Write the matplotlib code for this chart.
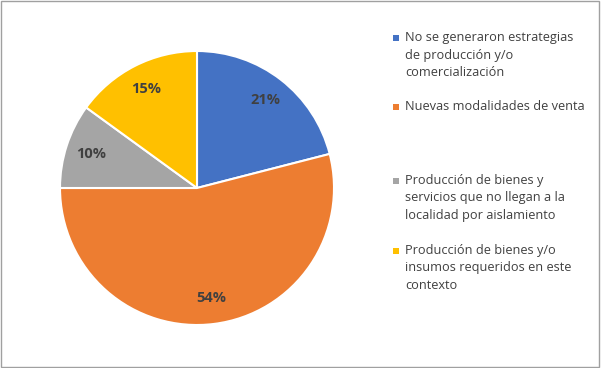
import matplotlib
matplotlib.use("Agg")
import matplotlib.pyplot as plt
from matplotlib.patches import Rectangle

categories = [
    "No se generaron estrategias\nde producción y/o\ncomercialización",
    "Nuevas modalidades de venta",
    "Producción de bienes y\nservicios que no llegan a la\nlocalidad por aislamiento",
    "Producción de bienes y/o\ninsumos requeridos en este\ncontexto",
]
values = [21, 54, 10, 15]
colors = ["#4472C4", "#ED7D31", "#A5A5A5", "#FFC000"]

plt.rcParams['font.family'] = ['Open Sans', 'DejaVu Sans']

fig = plt.figure(figsize=(6.01, 3.68), dpi=100)
ax = fig.add_axes([197/601 - 137/601, 1 - 188/368 - 137/368, 274/601, 274/368])
wedges, texts = ax.pie(values, colors=colors, startangle=90, counterclock=False,
                       labels=[f"{v}%" for v in values], labeldistance=0.81,
                       wedgeprops=dict(edgecolor="white", linewidth=1.5),
                       textprops=dict(color="#404040", fontsize=10.5, fontweight="bold"))
for t in texts:
    t.set_ha("center")
    t.set_va("center")
ax.set_xlim(-1, 1)
ax.set_ylim(-1, 1)
ax.set_aspect("equal")

# legend
ys = [38, 107, 181, 251]
for cat, col, y in zip(categories, colors, ys):
    fig.patches.append(Rectangle((393/601, 1 - (y + 3)/368), 6/601, 6/368,
                                 transform=fig.transFigure, facecolor=col, edgecolor="none"))
    fig.text(405/601, 1 - (y - 7)/368, cat, ha="left", va="top", fontsize=9.2,
             color="#404040", linespacing=1.45)

fig.patches.append(Rectangle((0.002, 0.003), 0.995, 0.993, transform=fig.transFigure,
                             facecolor="none", edgecolor="#A0A0A0", linewidth=1))
fig.savefig("out.png", dpi=100)
